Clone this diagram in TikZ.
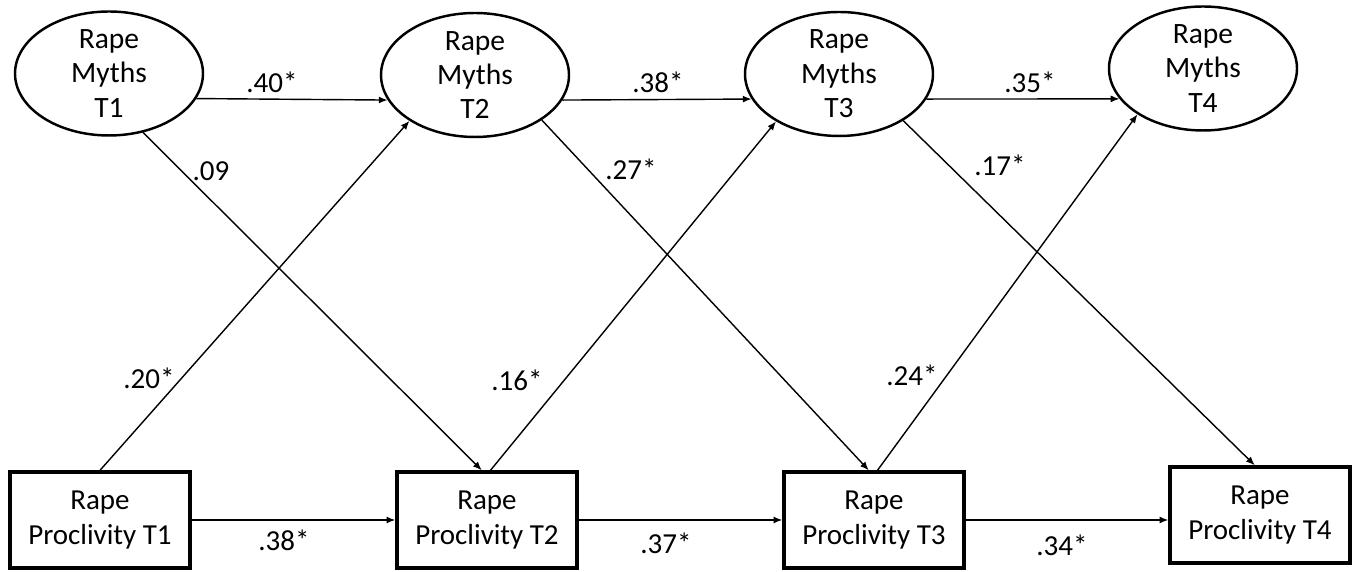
\documentclass[tikz,border=0pt]{standalone}
\usepackage{fontspec}
\setmainfont{Carlito}
\usepackage{tikz}
\usetikzlibrary{shapes,arrows.meta}

\begin{document}
\begin{tikzpicture}[semithick,
    myth/.style={draw,ellipse,line width=1.4pt,minimum width=3.76cm,minimum height=2.48cm,inner xsep=0pt,inner ysep=-8pt,align=center,font=\fontsize{16.8}{19.6}\selectfont},
    procl/.style={draw,rectangle,line width=1.9pt,minimum width=3.6cm,minimum height=1.92cm,align=center,font=\fontsize{16.5}{19.6}\selectfont},
    path/.style={line width=0.8pt,-{Latex[length=5pt,width=4pt]}},
    coef/.style={font=\fontsize{16.5}{19.6}\selectfont}]
  \useasboundingbox (0,0) rectangle (27.18,11.44);

  \node [myth] (rm1) at ( 2.18, 9.97) {Rape\\Myths\\T1};
  \node [myth] (rm2) at ( 9.50, 9.94) {Rape\\Myths\\T2};
  \node [myth] (rm3) at (16.78, 9.96) {Rape\\Myths\\T3};
  \node [myth] (rm4) at (24.06,10.07) {Rape\\Myths\\T4};

  \node [procl] (pr1) at ( 2.00, 1.04) {Rape\\Proclivity T1};
  \node [procl] (pr2) at ( 9.74, 1.04) {Rape\\Proclivity T2};
  \node [procl] (pr3) at (17.48, 1.04) {Rape\\Proclivity T3};
  \node [procl] (pr4) at (25.20, 1.14) {Rape\\Proclivity T4};

  % stability paths
  \draw[path] (rm1.-16) -- (rm2.196);
  \draw[path] (rm2.-16) -- (rm3.196);
  \draw[path] (rm3.-16) -- (rm4.200);
  \draw[path] (pr1.east) -- (pr2.west);
  \draw[path] (pr2.east) -- (pr3.west);
  \draw[path] (pr3.east) -- (pr3.east -| pr4.west);

  % cross-lagged paths
  \draw[path] (rm1.-60) -- (pr2.96);
  \draw[path] (rm2.-34) -- (pr3.96);
  \draw[path] (rm3.-36) -- (pr4.96);
  \draw[path] (pr1.north) -- (rm2.215);
  \draw[path] (pr2.86) -- (rm3.217);
  \draw[path] (pr3.86) -- (rm4.215);

  \node [coef] (c40) at ( 5.44, 9.80) {.40*};
  \node [coef] (c38a) at (13.16, 9.80) {.38*};
  \node [coef] (c35) at (20.60, 9.80) {.35*};
  \node [coef] (c09) at ( 4.22, 8.02) {.09};
  \node [coef] (c27) at (12.62, 8.06) {.27*};
  \node [coef] (c17) at (20.00, 8.14) {.17*};
  \node [coef] (c20) at ( 2.98, 3.88) {.20*};
  \node [coef] (c16) at (10.34, 3.84) {.16*};
  \node [coef] (c24) at (18.24, 3.94) {.24*};
  \node [coef] (c38b) at ( 5.68, 0.64) {.38*};
  \node [coef] (c37) at (13.32, 0.58) {.37*};
  \node [coef] (c34) at (21.24, 0.54) {.34*};
\end{tikzpicture}
\end{document}
